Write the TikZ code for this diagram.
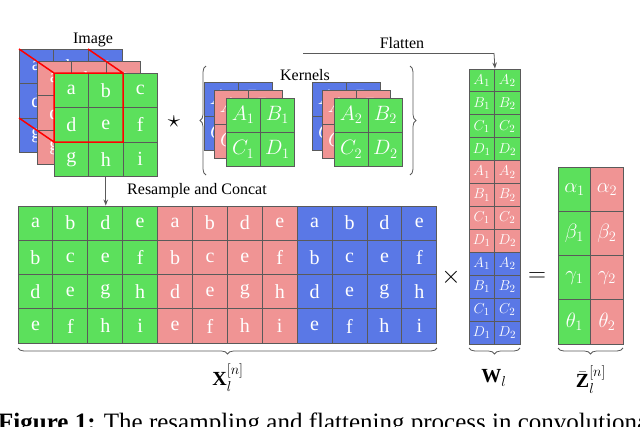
\documentclass[tikz,border=0pt]{standalone}
\usepackage{fontspec}
\setmainfont{Liberation Serif}
\usepackage{amsmath}
\usetikzlibrary{decorations.pathreplacing,arrows.meta}
\definecolor{cg}{RGB}{92,224,92}
\definecolor{cp}{RGB}{240,148,148}
\definecolor{cb}{RGB}{90,120,230}
\definecolor{bd}{RGB}{90,90,90}
\tikzset{
 cell/.style={draw=bd,line width=0.9pt,text=white,inner sep=0pt,minimum width=#1,font=\fontsize{20}{20}\selectfont},
 brc/.style={decorate,decoration={brace,amplitude=6pt},draw=bd,line width=0.8pt},
 lbl/.style={font=\fontsize{16}{16}\selectfont},
 arr/.style={draw=bd,line width=0.8pt,-{Stealth[length=6pt]}}
}
\begin{document}
\begin{tikzpicture}[x=1pt,y=-1pt]
\useasboundingbox (0,0) rectangle (640,426);
\clip (0,0) rectangle (640,426);
% image layers
\def\cw{34.5}
\foreach \col/\ox/\oy/\nm in {cb/19/49/b,cp/37/61/p,cg/54/73/g}{
 \foreach \t [count=\i from 0] in {a,b,c,d,e,f,g,h,i}{
  \pgfmathtruncatemacro\r{int(\i/3)}\pgfmathtruncatemacro\c{mod(\i,3)}
  \node[cell=\cw,minimum height=\cw,fill=\col] (im\nm\i) at ({\ox+\cw*(\c+0.5)},{\oy+\cw*(\r+0.5)}) {\t};
 }
 \ifx\nm b \draw[red,line width=1.5pt] (19,118)--(19,49)--(88,49); \fi
}
\draw[red,line width=1.5pt] (19,49)--(54,73) (88,49)--(123,73) (19,118)--(54,142) (54,73) rectangle (123,142);
\node[lbl] (imglbl) at (93,40) {Image};
% star
\node[font=\fontsize{26}{26}\selectfont] (star) at (174,122) {$\star$};
% kernels
\def\kw{34.3}
\foreach \k/\gx in {1/226,2/334}{
 \foreach \col/\dx/\dy/\nm in {cb/-22/-16/b,cp/-12/-8/p,cg/0/0/g}{
  \foreach \t [count=\i from 0] in {A,B,C,D}{
   \pgfmathtruncatemacro\r{int(\i/2)}\pgfmathtruncatemacro\c{mod(\i,2)}
   \node[cell=\kw,minimum height=\kw,fill=\col] (k\k\nm\i) at ({\gx+\dx+\kw*(\c+0.5)},{98+\dy+\kw*(\r+0.5)}) {$\t_{\k}$};
  }
 }
}
\draw[brc] (206,175)--(206,66);
\draw[brc] (410,66)--(410,175);
\node[lbl,fill=white,inner sep=1pt] (kl) at (305,75) {Kernels};
% W
\def\wh{22.92}
\foreach \col [count=\g from 0] in {cg,cp,cb}{
 \foreach \t [count=\j from 0] in {A,B,C,D}{
  \foreach \k in {1,2}{
   \node[cell=25.5,minimum height=\wh,fill=\col,font=\fontsize{15}{15}\selectfont] (w\g\j\k) at ({469+25.5*(\k-0.5)},{69+\wh*(4*\g+\j+0.5)}) {$\t_{\k}$};
  }
 }
}
\coordinate (fl) at (303,53);
\coordinate (fc) at (494,53);
\draw[draw=bd,line width=0.8pt] (fl)--(fc);
\draw[arr] (fc)--(w001.north east);
\node[lbl] (flat) at (402,43) {Flatten};
% Z
\foreach \t [count=\j from 0] in {\alpha,\beta,\gamma,\theta}{
 \node[cell=32.5,minimum height=44.25,fill=cg] (z\j1) at (574.5,{167+44.25*(\j+0.5)}) {$\t_1$};
 \node[cell=32.5,minimum height=44.25,fill=cp] (z\j2) at (607,{167+44.25*(\j+0.5)}) {$\t_2$};
}
% X
\def\xw{34.9}\def\xh{34.3}
\foreach \col [count=\g from 0] in {cg,cp,cb}{
 \foreach \row [count=\r from 0] in {{a,b,d,e},{b,c,e,f},{d,e,g,h},{e,f,h,i}}{
  \foreach \t [count=\c from 0] in \row{
   \node[cell=\xw,minimum height=\xh,fill=\col] (x\g\r\c) at ({18+\xw*(4*\g+\c+0.5)},{206+\xh*(\r+0.5)}) {\t};
  }
 }
}
\draw[arr] (img7.south)--(img7.south|-x002.north);
\node[lbl] (rc) at (197,191) {Resample and Concat};
\node[font=\fontsize{28}{28}\selectfont] (times) at (451,277) {$\times$};
\node[font=\fontsize{28}{28}\selectfont] (eq) at (537,277) {$=$};
% braces
\draw[brc] (437,348)--(18,348);
\draw[brc] (520,348)--(469,348);
\draw[brc] (623,348)--(558,348);
\node[font=\fontsize{20}{20}\selectfont] (xl) at (228,378) {$\mathbf{X}_l^{[n]}$};
\node[font=\fontsize{20}{20}\selectfont] (wl) at (494,378) {$\mathbf{W}_l$};
\node[font=\fontsize{20}{20}\selectfont] (zl) at (591,380) {$\bar{\mathbf{Z}}_l^{[n]}$};
\node[anchor=base west,font=\fontsize{25}{25}\selectfont,inner sep=0pt] (cap) at (-2,430) {\textbf{Figure 1:} The resampling and flattening process in convolutional};
\end{tikzpicture}
\end{document}
